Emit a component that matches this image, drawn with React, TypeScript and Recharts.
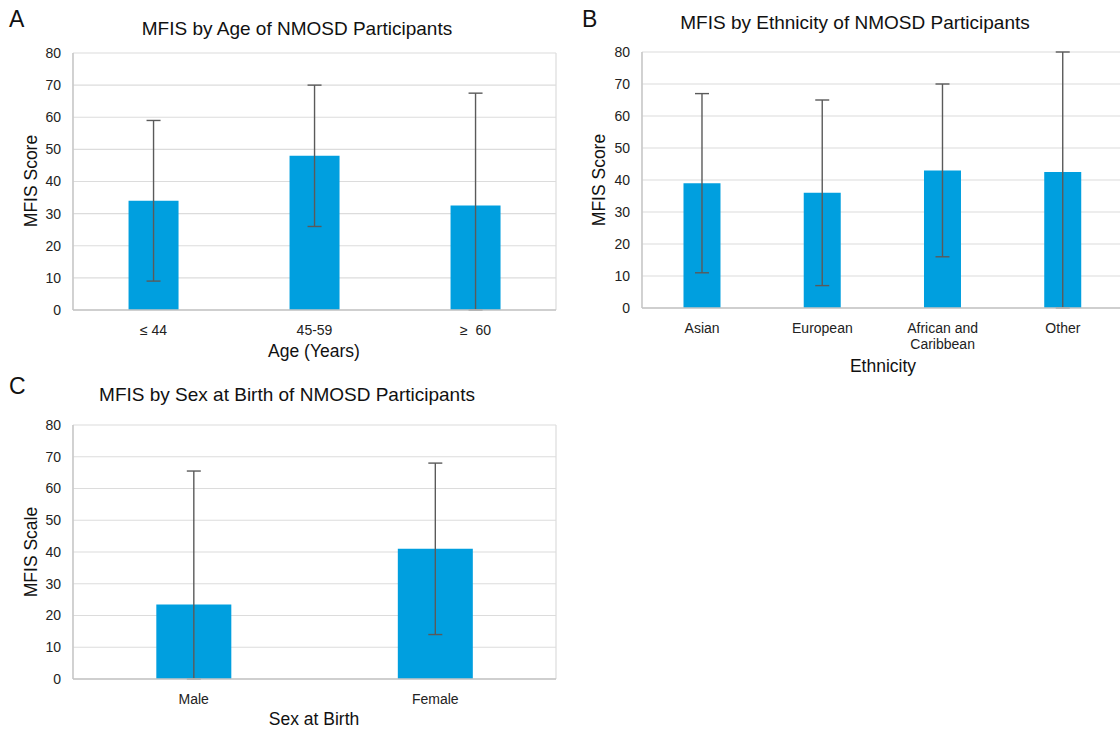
import React from 'react';
import { Bar, BarChart, CartesianGrid, ErrorBar, XAxis, YAxis } from 'recharts';

// Panel A: age groups
const ageGroups = ['≤ 44', '45-59', '≥\u00a0 60'];
const ageMeans = [34, 48, 32.5];
const ageErrLow = [25, 22, 32.5];
const ageErrHigh = [25, 22, 35];

// Panel B: ethnicity ("Other" whisker is cut off at the top of the axis, 80)
const ethnicities = ['Asian', 'European', 'African and\nCaribbean', 'Other'];
const ethMeans = [39, 36, 43, 42.5];
const ethErrLow = [28, 29, 27, 42.5];
const ethErrHigh = [28, 29, 27, 37.5];

// Panel C: sex at birth
const sexes = ['Male', 'Female'];
const sexMeans = [23.5, 41];
const sexErrLow = [23.5, 27];
const sexErrHigh = [42, 27];

const yTicks = [0, 10, 20, 30, 40, 50, 60, 70, 80];

const BLUE = '#009fdf';
const ERR = '#5a5a5a';
const GRID = '#dcdcdc';
const BORDER = '#c4c4c4';
const FONT = '"Liberation Sans", Arial, sans-serif';

const rows = (cats: string[], means: number[], lo: number[], hi: number[]) =>
  cats.map((name, i) => ({ name, mean: means[i], err: [lo[i], hi[i]] }));

const ageData = rows(ageGroups, ageMeans, ageErrLow, ageErrHigh);
const ethData = rows(ethnicities, ethMeans, ethErrLow, ethErrHigh);
const sexData = rows(sexes, sexMeans, sexErrLow, sexErrHigh);

function WrapTick({ x, y, payload }: any) {
  const lines = String(payload.value).split('\n');
  return (
    <text x={x} y={y} textAnchor="middle" fill="#222" fontSize={14} fontFamily={FONT}>
      {lines.map((l, i) => (
        <tspan key={i} x={x} dy={i === 0 ? 17 : 16}>
          {l}
        </tspan>
      ))}
    </text>
  );
}

function Panel({ data, left, top, width, height, margin, xHeight }: any) {
  return (
    <div style={{ position: 'absolute', left, top }}>
      <BarChart width={width} height={height} data={data} margin={margin} barCategoryGap="34.5%">
        <CartesianGrid
          stroke={GRID}
          strokeWidth={1.2}
          verticalCoordinatesGenerator={({ offset }: any) => [offset.left, offset.left + offset.width]}
        />
        <XAxis
          dataKey="name"
          tickLine={false}
          axisLine={{ stroke: BORDER, strokeWidth: 1.3 }}
          height={xHeight}
          interval={0}
          tick={<WrapTick />}
        />
        <YAxis
          domain={[0, 80]}
          ticks={yTicks}
          width={40}
          tickLine={false}
          tickMargin={6}
          axisLine={{ stroke: BORDER, strokeWidth: 1.3 }}
          tick={{ fontSize: 14, fill: '#222', fontFamily: FONT }}
        />
        <Bar dataKey="mean" fill={BLUE} isAnimationActive={false}>
          <ErrorBar dataKey="err" direction="y" width={7} stroke={ERR} strokeWidth={1.4} />
        </Bar>
      </BarChart>
    </div>
  );
}

function Txt({ x, y, size, children, rotate, anchor = 'center' }: any) {
  return (
    <div
      style={{
        position: 'absolute',
        left: x,
        top: y,
        fontSize: size,
        fontFamily: FONT,
        color: '#111',
        whiteSpace: 'nowrap',
        lineHeight: 1,
        transform: `translate(${anchor === 'center' ? '-50%' : '0'}, -50%)${rotate ? ` rotate(${rotate}deg)` : ''}`,
      }}
    >
      {children}
    </div>
  );
}

export default function App() {
  return (
    <div
      style={{
        position: 'absolute',
        left: 0,
        top: 0,
        width: 1120,
        height: 729,
        overflow: 'hidden',
        background: '#fff',
      }}
    >
      <Panel
        data={ageData}
        left={0}
        top={0}
        width={570}
        height={370}
        margin={{ top: 53, right: 14, left: 33, bottom: 30 }}
        xHeight={30}
      />
      <Panel
        data={ethData}
        left={560}
        top={0}
        width={575}
        height={370}
        margin={{ top: 52, right: 12, left: 42, bottom: 22 }}
        xHeight={40}
      />
      <Panel
        data={sexData}
        left={0}
        top={370}
        width={570}
        height={359}
        margin={{ top: 55, right: 14, left: 33, bottom: 20 }}
        xHeight={30}
      />

      <Txt x={9} y={19} size={23} anchor="left">A</Txt>
      <Txt x={297} y={28} size={19}>MFIS by Age of NMOSD Participants</Txt>
      <Txt x={32} y={181} size={17.5} rotate={-90}>MFIS Score</Txt>
      <Txt x={314} y={352} size={17.5}>Age (Years)</Txt>

      <Txt x={582} y={19} size={23} anchor="left">B</Txt>
      <Txt x={855} y={22} size={19}>MFIS by Ethnicity of NMOSD Participants</Txt>
      <Txt x={600} y={180} size={17.5} rotate={-90}>MFIS Score</Txt>
      <Txt x={883} y={367} size={17.5}>Ethnicity</Txt>

      <Txt x={9} y={386} size={23} anchor="left">C</Txt>
      <Txt x={287} y={394} size={19}>MFIS by Sex at Birth of NMOSD Participants</Txt>
      <Txt x={32} y={552} size={17.5} rotate={-90}>MFIS Scale</Txt>
      <Txt x={314} y={720} size={17.5}>Sex at Birth</Txt>
    </div>
  );
}
